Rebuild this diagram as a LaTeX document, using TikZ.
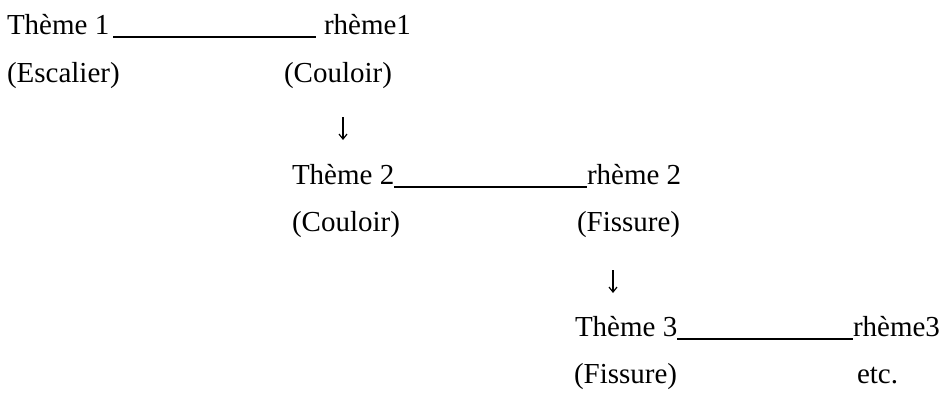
\documentclass[tikz,border=0pt]{standalone}
\usepackage{fontspec}
\setmainfont{Liberation Serif}
\usetikzlibrary{arrows.meta}
\begin{document}
\begin{tikzpicture}[x=1pt, y=-1pt,
  txt/.style={anchor=base west, inner sep=0pt, outer sep=0pt,
              font=\fontsize{29}{35}\selectfont, text=black},
  rule/.style={line width=1.5pt, black},
  downarrow/.style={line width=1.2pt, black,
                    -{Straight Barb[length=5pt, width=8pt, line width=1.2pt]}}]
  \path[use as bounding box] (0,0) rectangle (943,394);

  % first pair
  \node[txt] (t1) at (7,34)   {Thème 1};
  \node[txt] (r1) at (324,34) {rhème1};
  \node[txt] (e1) at (7,82)   {(Escalier)};
  \node[txt] (c1) at (284,82) {(Couloir)};

  % second pair
  \node[txt] (t2) at (292,184) {Thème 2};
  \node[txt] (r2) at (587,184) {rhème 2};
  \node[txt] (c2) at (292,231) {(Couloir)};
  \node[txt] (f1) at (577,231) {(Fissure)};

  % third pair
  \node[txt] (t3) at (575,336) {Thème 3};
  \node[txt] (r3) at (853,336) {rhème3};
  \node[txt] (f2) at (574,383) {(Fissure)};
  \node[txt] (et) at (857,383) {etc.};

  % theme -- rheme links
  \draw[rule] ([xshift=4pt, yshift=-3pt]t1.base east) -- ([xshift=-8pt, yshift=-3pt]r1.base west);
  \draw[rule] ([yshift=-3pt]t2.base east) -- ([yshift=-3pt]r2.base west);
  \draw[rule] ([yshift=-3pt]t3.base east) -- ([yshift=-3pt]r3.base west);

  % rheme becomes the next theme
  \coordinate (a1s) at (343,117);
  \coordinate (a1e) at (343,140);
  \coordinate (a2s) at (613,270);
  \coordinate (a2e) at (613,293);
  \draw[downarrow] (a1s) -- (a1e);
  \draw[downarrow] (a2s) -- (a2e);
\end{tikzpicture}
\end{document}
